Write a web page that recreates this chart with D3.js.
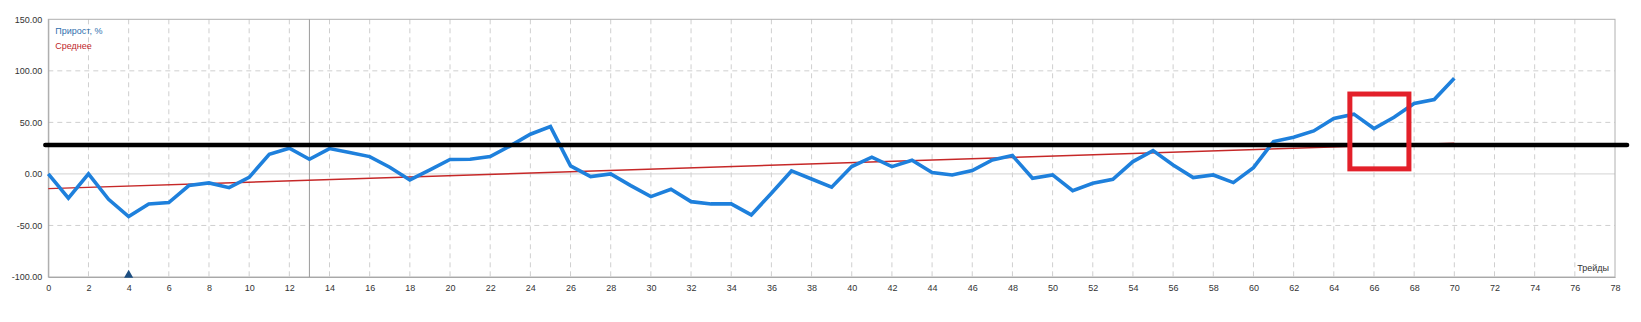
<!DOCTYPE html>
<html>
<head>
<meta charset="utf-8">
<script src="https://cdn.jsdelivr.net/npm/d3@7"></script>
<style>
  body { margin: 0; background: #fff; }
  text { font-family: "Liberation Sans", Arial, sans-serif; }
</style>
</head>
<body>
<div id="chart"></div>
<script>

// trade numbers 0..70 and growth in %
var trades = d3.range(0, 71);
var growth = [
    0, -23.6, 0, -24.6, -41.4, -29.1, -27.8, -11.3, -8.7, -13.3,
    -3.3, 19.1, 24.9, 14.2, 24.6, 20.7, 16.8, 6.5, -5.8, 3.9,
    14.0, 14.2, 16.8, 27.2, 38.5, 45.9, 7.8, -2.6, 0, -11.3,
    -22, -14.9, -26.9, -29.1, -29.1, -39.8, -18.8, 2.9, -4.9, -12.9,
    7.1, 16.2, 7.1, 13.3, 1.3, -1, 3.2, 13.6, 17.8, -4.2,
    -1, -16.2, -9.1, -5.2, 12, 22.6, 8.7, -3.6, -1, -8.4,
    6.1, 31.4, 35.6, 41.7, 53.7, 58, 44, 55, 68.3, 72.1,
    92.9
];
// average (trend) line, start and end
var avgX = [0, 70];
var avgY = [-14.3, 29.9];

var xTicks = d3.range(0, 79, 2);
var yTicks = [-100, -50, 0, 50, 100, 150];
var legendNames = ["Прирост, %", "Среднее"];
var xTitle = "Трейды";

// cursor line and marker
var cursorX = [13];
var markers = [{x: 4, y: -100}];

// hand drawn annotations
var blackLevel = 28;
var blackSpan = [-0.15, 78.6];
var redBox = {x0: 64.8, x1: 67.74, y0: 4.9, y1: 77.5};

var W = 1641, H = 322;
var margin = {top: 19.3, right: 26, bottom: 45, left: 48.3};
var width = W - margin.left - margin.right;
var height = H - margin.top - margin.bottom;

var fmt = d3.formatLocale({decimal: ".", thousands: "", grouping: [3], currency: ["", ""], minus: "-"}).format(".2f");

var svg = d3.select("#chart").append("svg")
    .attr("width", W)
    .attr("height", H);

var g = svg.append("g")
    .attr("transform", "translate(" + margin.left + "," + margin.top + ")");

var x = d3.scaleLinear().domain([0, 78]).range([0, width]);
var y = d3.scaleLinear().domain([-100, 150]).range([height, 0]);

// grid
g.append("g")
    .attr("class", "grid-x")
    .selectAll("line")
    .data(xTicks.filter(function(d) { return d > 0 && d < 78; }))
    .enter().append("line")
    .attr("x1", function(d) { return x(d); })
    .attr("x2", function(d) { return x(d); })
    .attr("y1", 0)
    .attr("y2", height)
    .attr("stroke", "#cfcfcf")
    .attr("stroke-dasharray", "5,4");

g.append("g")
    .attr("class", "grid-y")
    .selectAll("line")
    .data(yTicks.filter(function(d) { return d > -100 && d < 150; }))
    .enter().append("line")
    .attr("x1", 0)
    .attr("x2", width)
    .attr("y1", function(d) { return y(d); })
    .attr("y2", function(d) { return y(d); })
    .attr("stroke", function(d) { return d == 0 ? "#d4d4d4" : "#cfcfcf"; })
    .attr("stroke-dasharray", function(d) { return d == 0 ? null : "5,4"; });

// plot frame
g.append("rect")
    .attr("width", width)
    .attr("height", height)
    .attr("fill", "none")
    .attr("stroke", "#b0b0b0");

// axes
var xAxis = g.append("g")
    .attr("transform", "translate(0," + height + ")")
    .call(d3.axisBottom(x).tickValues(xTicks).tickSize(0).tickPadding(8).tickFormat(d3.format("d")));
var yAxis = g.append("g")
    .call(d3.axisLeft(y).tickValues(yTicks).tickSize(0).tickPadding(6).tickFormat(fmt));

[xAxis, yAxis].forEach(function(a) {
    a.select(".domain").attr("stroke", "#a8a8a8");
    a.selectAll("text")
        .style("font-size", "9px")
        .attr("fill", "#333");
});

// cursor line
g.selectAll(".cursor")
    .data(cursorX).enter()
    .append("line")
    .attr("class", "cursor")
    .attr("x1", function(d) { return x(d); })
    .attr("x2", function(d) { return x(d); })
    .attr("y1", 0)
    .attr("y2", height)
    .attr("stroke", "#9a9a9a");

// average line
var avgData = avgX.map(function(d, i) { return [d, avgY[i]]; });
g.append("path")
    .datum(avgData)
    .attr("fill", "none")
    .attr("stroke", "#c62828")
    .attr("stroke-width", 1.4)
    .attr("d", d3.line().x(function(d) { return x(d[0]); }).y(function(d) { return y(d[1]); }));

// growth line
g.append("path")
    .datum(trades.map(function(d, i) { return [d, growth[i]]; }))
    .attr("fill", "none")
    .attr("stroke", "#1e80dc")
    .attr("stroke-width", 3.6)
    .attr("stroke-linejoin", "miter")
    .attr("d", d3.line().x(function(d) { return x(d[0]); }).y(function(d) { return y(d[1]); }));

// marker on the bottom axis
g.selectAll(".marker")
    .data(markers).enter()
    .append("path")
    .attr("class", "marker")
    .attr("transform", function(d) { return "translate(" + x(d.x) + "," + (y(d.y) - 2) + ")"; })
    .attr("d", d3.symbol().type(d3.symbolTriangle).size(36))
    .attr("fill", "#1d4f82");

// legend
var legendColors = ["#2f6fae", "#c0282b"];
g.selectAll(".legend")
    .data(legendNames).enter()
    .append("text")
    .attr("class", "legend")
    .attr("x", 7)
    .attr("y", function(d, i) { return 15 + i * 14.5; })
    .style("font-size", "9px")
    .attr("fill", function(d, i) { return legendColors[i]; })
    .text(function(d) { return d; });

// x title
g.append("text")
    .attr("x", width - 6)
    .attr("y", height - 6)
    .attr("text-anchor", "end")
    .style("font-size", "9px")
    .attr("fill", "#333")
    .text(xTitle);

// annotations
g.append("line")
    .attr("x1", x(blackSpan[0]))
    .attr("x2", x(blackSpan[1]))
    .attr("y1", y(blackLevel))
    .attr("y2", y(blackLevel))
    .attr("stroke", "#000")
    .attr("stroke-width", 4.5)
    .attr("stroke-linecap", "round");

g.append("rect")
    .attr("x", x(redBox.x0))
    .attr("y", y(redBox.y1))
    .attr("width", x(redBox.x1) - x(redBox.x0))
    .attr("height", y(redBox.y0) - y(redBox.y1))
    .attr("fill", "none")
    .attr("stroke", "#e3202a")
    .attr("stroke-width", 5);

</script>
</body>
</html>
